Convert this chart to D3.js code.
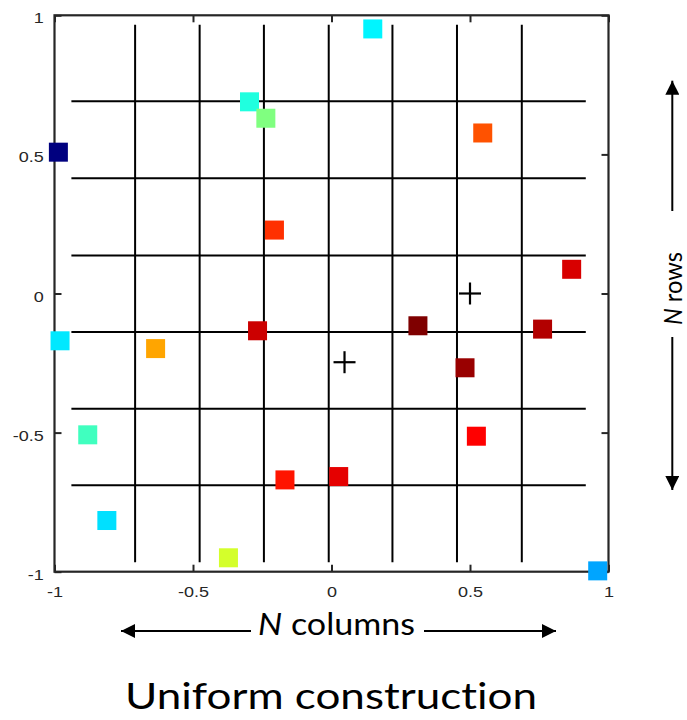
<!DOCTYPE html>
<html>
<head>
<meta charset="utf-8">
<script src="https://cdn.jsdelivr.net/npm/d3@7"></script>
<style>
  body { margin: 0; background: #fff; }
  .tick text { font-family: "Liberation Sans", Arial, sans-serif; font-size: 15px; fill: #262626; }
  .note { font-family: Lato, "Open Sans", sans-serif; fill: #000; font-variant-ligatures: none; }
</style>
</head>
<body>
<div id="chart"></div>
<script>
// point positions and their colour value (0..1 on the jet colormap)
var pointX = [-0.986, -0.296, -0.237, -0.206, 0.149, 0.546, 0.867, -0.980, -0.635, -0.267,
              -0.880, -0.168, 0.026, -0.811, -0.372, 0.312, 0.762, 0.482, 0.523, 0.961];
var pointY = [0.508, 0.689, 0.630, 0.228, 0.951, 0.577, 0.087, -0.170, -0.198, -0.134,
              -0.508, -0.670, -0.658, -0.816, -0.950, -0.116, -0.128, -0.267, -0.513, -0.997];
var pointValue = [0.0, 0.406, 0.5, 0.828, 0.365, 0.795, 0.913, 0.352, 0.713, 0.925,
                  0.4375, 0.855, 0.9, 0.345, 0.583, 1.0, 0.95, 0.975, 0.875, 0.287];

// cluster centres (plus signs)
var centerX = [0.5, 0.047];
var centerY = [0.0, -0.247];

// grid lines
var colLines = [-0.709, -0.476, -0.244, -0.010, 0.220, 0.453, 0.687];
var colExtent = [-0.966, 0.966];
var rowLines = [0.691, 0.414, 0.137, -0.138, -0.414, -0.689];
var rowExtent = [-0.939, 0.918];

var xTicks = [-1, -0.5, 0, 0.5, 1];
var yTicks = [-1, -0.5, 0, 0.5, 1];

var width = 687, height = 720;
var plot = { left: 54.5, right: 608.5, top: 15.3, bottom: 571.7 };
var stretch = 1.2; // the reference text is wider than the font draws it

var svg = d3.select("#chart").append("svg")
    .attr("width", width)
    .attr("height", height);

var x = d3.scaleLinear().domain([-1, 1]).range([plot.left, plot.right]);
var y = d3.scaleLinear().domain([-1, 1]).range([plot.bottom, plot.top]);

var jet = d3.scaleLinear()
    .domain([0, 0.125, 0.375, 0.625, 0.875, 1])
    .range(["#00007f", "#0000ff", "#00ffff", "#ffff00", "#ff0000", "#7f0000"]);

var fmt = function (d) { return d === 0 ? "0" : String(d); };

// grid
svg.append("g").selectAll("line").data(colLines).enter().append("line")
    .attr("x1", function (d) { return x(d); })
    .attr("x2", function (d) { return x(d); })
    .attr("y1", y(colExtent[1]))
    .attr("y2", y(colExtent[0]))
    .attr("stroke", "#000").attr("stroke-width", 2);

svg.append("g").selectAll("line").data(rowLines).enter().append("line")
    .attr("y1", function (d) { return y(d); })
    .attr("y2", function (d) { return y(d); })
    .attr("x1", x(rowExtent[0]))
    .attr("x2", x(rowExtent[1]))
    .attr("stroke", "#000").attr("stroke-width", 2);

// axes (ticks inward on all four sides)
function styleAxis(g) {
    g.select(".domain").remove();
    g.selectAll(".tick line").attr("stroke", "#262626").attr("stroke-width", 2);
    g.selectAll(".tick text").attr("transform", "scale(" + stretch + ",1)");
}

svg.append("g")
    .attr("transform", "translate(0," + plot.bottom + ")")
    .call(d3.axisBottom(x).tickValues(xTicks).tickFormat(fmt).tickSizeInner(-7).tickSizeOuter(0).tickPadding(15))
    .call(styleAxis);

svg.append("g")
    .attr("transform", "translate(0," + plot.top + ")")
    .call(d3.axisTop(x).tickValues(xTicks).tickFormat("").tickSizeInner(-7).tickSizeOuter(0))
    .call(styleAxis);

svg.append("g")
    .attr("transform", "translate(" + plot.left + ",0)")
    .call(d3.axisLeft(y).tickValues(yTicks).tickFormat(fmt).tickSizeInner(-7).tickSizeOuter(0).tickPadding(9))
    .call(styleAxis)
    .selectAll(".tick text").attr("dy", "0.5em");

svg.append("g")
    .attr("transform", "translate(" + plot.right + ",0)")
    .call(d3.axisRight(y).tickValues(yTicks).tickFormat("").tickSizeInner(-7).tickSizeOuter(0))
    .call(styleAxis);

svg.append("rect")
    .attr("x", plot.left).attr("y", plot.top)
    .attr("width", plot.right - plot.left)
    .attr("height", plot.bottom - plot.top)
    .attr("fill", "none")
    .attr("stroke", "#262626")
    .attr("stroke-width", 2.2);

// points
var size = 19;
svg.append("g").selectAll("rect").data(pointX).enter().append("rect")
    .attr("x", function (d) { return x(d) - size / 2; })
    .attr("y", function (d, i) { return y(pointY[i]) - size / 2; })
    .attr("width", size)
    .attr("height", size)
    .attr("fill", function (d, i) { return jet(pointValue[i]); });

// centres
var half = 11;
var plus = svg.append("g").selectAll("g").data(centerX).enter().append("g")
    .attr("transform", function (d, i) { return "translate(" + x(d) + "," + y(centerY[i]) + ")"; });
plus.append("line").attr("x1", -half).attr("x2", half).attr("y1", 0).attr("y2", 0)
    .attr("stroke", "#000").attr("stroke-width", 2.2);
plus.append("line").attr("y1", -half).attr("y2", half).attr("x1", 0).attr("x2", 0)
    .attr("stroke", "#000").attr("stroke-width", 2.2);

// arrow heads
var defs = svg.append("defs");
defs.append("marker")
    .attr("id", "head")
    .attr("viewBox", "0 0 10 10")
    .attr("refX", 10).attr("refY", 5)
    .attr("markerWidth", 15).attr("markerHeight", 14)
    .attr("markerUnits", "userSpaceOnUse")
    .attr("orient", "auto")
    .append("path")
    .attr("d", "M0,0L10,5L0,10Z")
    .attr("fill", "#000");

// "N columns" annotation
var colY = 631;
svg.append("line").attr("x1", 251).attr("x2", 121).attr("y1", colY).attr("y2", colY)
    .attr("stroke", "#000").attr("stroke-width", 2).attr("marker-end", "url(#head)");
svg.append("line").attr("x1", 424).attr("x2", 556).attr("y1", colY).attr("y2", colY)
    .attr("stroke", "#000").attr("stroke-width", 2).attr("marker-end", "url(#head)");
var colText = svg.append("text").attr("class", "note")
    .attr("x", 258).attr("y", 635)
    .attr("textLength", 157)
    .attr("lengthAdjust", "spacingAndGlyphs")
    .style("font-size", "30px");
colText.append("tspan").style("font-style", "italic").text("N");
colText.append("tspan").text(" columns");

// "N rows" annotation
var rowX = 672.3;
svg.append("line").attr("x1", rowX).attr("x2", rowX).attr("y1", 211).attr("y2", 80.7)
    .attr("stroke", "#000").attr("stroke-width", 2).attr("marker-end", "url(#head)");
svg.append("line").attr("x1", rowX).attr("x2", rowX).attr("y1", 337).attr("y2", 490)
    .attr("stroke", "#000").attr("stroke-width", 2).attr("marker-end", "url(#head)");
var rowText = svg.append("text").attr("class", "note")
    .attr("transform", "translate(681.5,325) rotate(-90)")
    .attr("textLength", 73)
    .attr("lengthAdjust", "spacingAndGlyphs")
    .style("font-size", "25px");
rowText.append("tspan").style("font-style", "italic").text("N");
rowText.append("tspan").text(" rows");

// title
svg.append("text").attr("class", "note")
    .attr("x", 125).attr("y", 709)
    .attr("textLength", 412)
    .attr("lengthAdjust", "spacingAndGlyphs")
    .style("font-size", "36px")
    .text("Uniform construction");
</script>
</body>
</html>
